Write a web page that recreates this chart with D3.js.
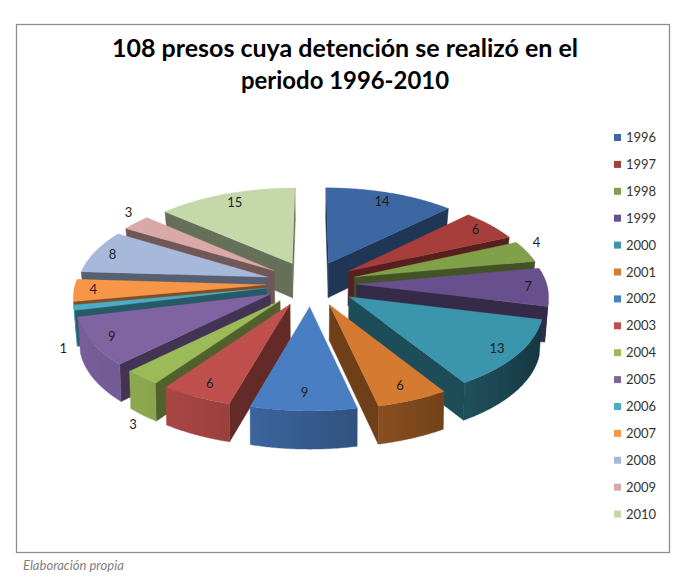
<!DOCTYPE html>
<html><head><meta charset="utf-8">
<script src="https://cdn.jsdelivr.net/npm/d3@7"></script>
<style>body{margin:0;background:#fff}svg{display:block}</style>
</head><body><svg id="c" width="700" height="587"></svg>
<script>
// ---- data ----
const years = ["1996","1997","1998","1999","2000","2001","2002","2003","2004","2005","2006","2007","2008","2009","2010"];
const values = [14,6,4,7,13,6,9,6,3,9,1,4,8,3,15];
const colors = ["#3D67A3","#A63E3B","#80A04A","#67508D","#3A95AD","#D47A31","#4A7EC2","#C0504D","#9BBB59","#8064A2","#4BACC6","#F79646","#A6B9DA","#D9A9A8","#C4D8A9"];
const outsideLabels = ["1998","2004","2006","2009"];
const titleLines = ["108 presos cuya detención se realizó en el","periodo 1996-2010"];
const sourceNote = "Elaboración propia";

const svg = d3.select("#c");
const defs = svg.append("defs");
svg.append("rect").attr("x",16.5).attr("y",24.5).attr("width",653).attr("height",528)
  .attr("fill","#fff").attr("stroke","#8e8e8e").attr("stroke-width",1.3);

// title
const tW = [466, 208], tY = [57, 89];
titleLines.forEach((t,i)=>{
  const el = svg.append("text").attr("x",345).attr("y",tY[i]).attr("text-anchor","middle")
    .attr("font-family","Lato, 'Open Sans', sans-serif").attr("font-weight","bold")
    .attr("font-size",25).attr("fill","#000").text(t);
  const w = el.node().getComputedTextLength();
  if (Math.abs(w - tW[i]) > 4) el.attr("textLength",tW[i]).attr("lengthAdjust","spacingAndGlyphs");
});

// source note
svg.append("text").attr("x",23).attr("y",570).attr("font-family","Lato, 'Open Sans', sans-serif")
  .attr("font-style","italic").attr("font-size",13).attr("fill","#7f7f7f").text(sourceNote);

// ---- 3D pie ----
const cx=311, cy=283.5, F=190, alpha=29.7*Math.PI/180, H=0.215, EXP=0.24;
const PA=0.134, PB=0.052; // perspective depth coefficients
const ca=Math.cos(alpha), sa=Math.sin(alpha);
function proj(X,Y,Z){ const yv=Y*ca+Z*sa, zv=Z*ca-Y*sa; const s=F/(1+PA*zv+PB*zv*zv); return [cx+X*s, cy-yv*s, zv]; }
const cam=[0, 8*sa, -8*ca];
function visible(n,P){ return n[0]*(cam[0]-P[0])+n[1]*(cam[1]-P[1])+n[2]*(cam[2]-P[2]) > 0; }
function shade(c,f){ const r=d3.rgb(c); return d3.rgb(Math.min(255,r.r*f), Math.min(255,r.g*f), Math.min(255,r.b*f)).formatHex(); }
const wallF = t => 0.62 - 0.3*Math.sin(t) - 0.1*Math.cos(t);
const line = d3.line().curve(d3.curveLinearClosed);

const arcs = d3.pie().sort(null).value(d=>d).startAngle(0).endAngle(2*Math.PI)(values);
const slices = arcs.map((a,i)=>{
  const m=(a.startAngle+a.endAngle)/2, ox=EXP*Math.sin(m), oz=EXP*Math.cos(m);
  const W=(r,t,Y)=>[ox+r*Math.sin(t), Y, oz+r*Math.cos(t)];
  const P=(r,t,Y)=>{const w=W(r,t,Y); return proj(w[0],w[1],w[2]);};
  const depth = P(0.6,m,0)[2];
  return {a,i,m,W,P,depth};
});
slices.sort((p,q)=>q.depth-p.depth);

const g = svg.append("g");
slices.forEach(s=>{
  const {a,i,W,P} = s, a0=a.startAngle, a1=a.endAngle, col=colors[i];
  const n=Math.max(4,Math.ceil((a1-a0)/(Math.PI/360)));
  const ts=d3.range(n+1).map(k=>a0+(a1-a0)*k/n);
  const ctr=(Y)=>P(0,0,Y);
  const sg = g.append("g");
  // radial walls
  [[a0,[-Math.cos(a0),0,Math.sin(a0)]],[a1,[Math.cos(a1),0,-Math.sin(a1)]]].forEach(([t,nrm])=>{
    if (visible(nrm, W(0.5,t,-H/2))) {
      const pts=[ctr(0),P(1,t,0),P(1,t,-H),ctr(-H)].map(p=>[p[0],p[1]]);
      const c=shade(col,0.52);
      sg.append("path").attr("d",line(pts)).attr("fill",c).attr("stroke",c).attr("stroke-width",0.5);
    }
  });
  // outer wall: visible contiguous range, one polygon with horizontal gradient
  const vis = ts.filter(t=>visible([Math.sin(t),0,Math.cos(t)], W(1,t,-H/2)));
  if (vis.length>1) {
    const topPts = vis.map(t=>P(1,t,0)), botPts = vis.map(t=>P(1,t,-H));
    const pts = topPts.concat(botPts.slice().reverse()).map(p=>[p[0],p[1]]);
    const xs = topPts.map(p=>p[0]);
    const x0 = d3.min(xs), x1 = d3.max(xs);
    const gid = "w"+i;
    const grad = defs.append("linearGradient").attr("id",gid).attr("gradientUnits","userSpaceOnUse")
      .attr("x1",x0).attr("x2",x1).attr("y1",0).attr("y2",0);
    const stops = vis.map((t,k)=>({o:(x1-x0)>0?(xs[k]-x0)/(x1-x0):0, c:shade(col,wallF(t))}))
      .sort((p,q)=>p.o-q.o);
    stops.filter((d,k)=>k%3===0||k===stops.length-1).forEach(d=>grad.append("stop").attr("offset",d.o).attr("stop-color",d.c));
    const cmid = shade(col,wallF(vis[Math.floor(vis.length/2)]));
    sg.append("path").attr("d",line(pts)).attr("fill",`url(#${gid})`).attr("stroke",cmid).attr("stroke-width",0.4);
  }
  // top
  const top=[ctr(0)].concat(ts.map(t=>P(1,t,0))).map(p=>[p[0],p[1]]);
  sg.append("path").attr("d",line(top)).attr("fill",col).attr("stroke",col).attr("stroke-width",0.3);
});

// labels
const lab = svg.append("g").attr("font-family","Lato, 'Open Sans', sans-serif").attr("font-size",13)
  .attr("fill","#1e1e1e").attr("text-anchor","middle");
slices.forEach(s=>{
  const {a,i,m,P} = s;
  let p, dy=0;
  if (outsideLabels.includes(years[i])) {
    if (Math.cos(m) < 0) { p=P(1.07,m,-H); dy=4; } else { p=P(1.06,m,0); dy=-8; }
  } else {
    p=P(0.82+0.08*Math.abs(Math.sin(m)), m, 0);
  }
  lab.append("text").attr("x",p[0]).attr("y",p[1]+dy).attr("dy","0.35em").text(a.data);
});

// legend
const leg = svg.append("g");
years.forEach((y,i)=>{
  const yy = 137.5 + i*26.9;
  leg.append("rect").attr("x",614).attr("y",yy-3.5).attr("width",7).attr("height",7).attr("fill",colors[i]);
  leg.append("text").attr("x",626).attr("y",yy).attr("dy","0.35em")
    .attr("font-family","Lato, 'Open Sans', sans-serif").attr("font-size",13).attr("fill","#333").text(y);
});
</script></body></html>
